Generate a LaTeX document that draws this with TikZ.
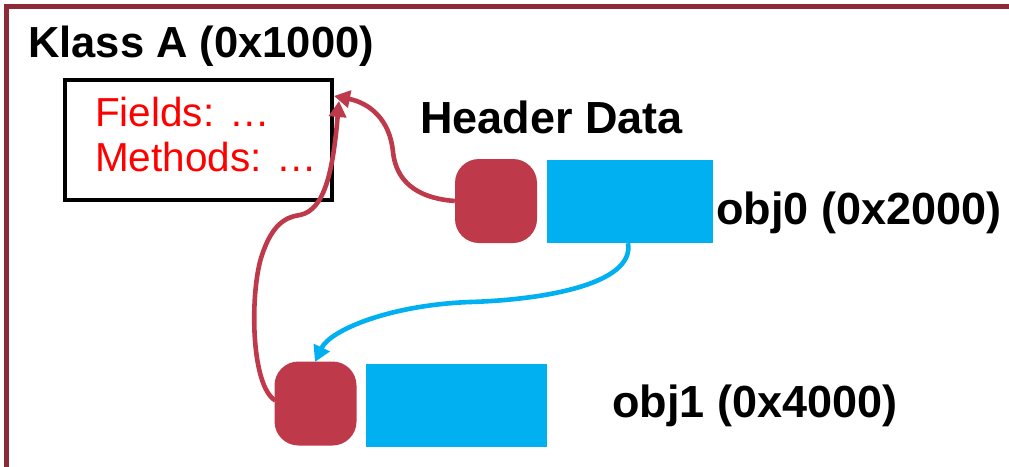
\documentclass[tikz,border=0pt]{standalone}
\usepackage{fontspec}
\setmainfont{Liberation Sans}
\usetikzlibrary{arrows.meta}
\definecolor{frameRed}{RGB}{142,41,56}
\definecolor{hdrRed}{RGB}{190,58,75}
\definecolor{dataBlue}{RGB}{0,176,240}
\definecolor{txtRed}{RGB}{255,0,0}
\tikzset{
  hdr/.style={fill=hdrRed, draw=none, rounded corners=24pt, minimum width=82pt, minimum height=84pt, inner sep=0pt},
  dat/.style={fill=dataBlue, draw=none, minimum height=83pt, inner sep=0pt},
  lbl/.style={font=\fontsize{45pt}{50pt}\selectfont\bfseries, anchor=base west, inner sep=0pt},
  body/.style={font=\fontsize{40.5pt}{45pt}\selectfont, text=txtRed, anchor=base west, inner sep=0pt},
  redlink/.style={draw=hdrRed, line width=4.6pt, -{Triangle[length=16pt,width=17pt]}},
  bluelink/.style={draw=dataBlue, line width=4.6pt, -{Triangle[length=16pt,width=17pt]}},
}
\begin{document}
\begin{tikzpicture}[x=1pt,y=-1pt]
\useasboundingbox (0,0) rectangle (1009,466);
\clip (0,0) rectangle (1009,466);
\fill[white] (0,0) rectangle (1009,466);

% enclosing frame
\draw[frameRed, line width=4.5pt] (6.5,480) -- (6.5,6.5) -- (1020,6.5);

% class
\node[lbl, font=\fontsize{43.5pt}{48pt}\selectfont\bfseries] (title) at (28,57) {Klass A (0x1000)};
\node[draw=black, line width=4.5pt, minimum width=267pt, minimum height=120pt, inner sep=0pt] (klass) at (198.5,140) {};
\node[body] (fields) at (95,126) {Fields: …};
\node[body] (methods) at (95,171) {Methods: …};

% objects
\node[lbl] (hdrlbl) at (420,133) {Header Data};
\node[hdr] (h0) at (496,201) {};
\node[dat, minimum width=166pt] (d0) at (630,201.5) {};
\node[lbl] (o0) at (716,224) {obj0 (0x2000)};

\node[hdr] (h1) at (315.5,403.5) {};
\node[dat, minimum width=181pt] (d1) at (456.5,405) {};
\node[lbl] (o1) at (612,417) {obj1 (0x4000)};

% pointers
\coordinate (tipA) at (334,96);
\coordinate (tipB) at (339,101);
\coordinate (tipC) at (315,362);

\path[redlink] (h0.west) .. controls (415,198) and (396,180) .. (393,152)
  .. controls (390,120) and (370,103) .. (tipA);
\path[redlink] ([xshift=1pt,yshift=3pt]h1.west) .. controls (250,385) and (250,290) .. (262,255)
  .. controls (272,225) and (285,217) .. (300,215)
  .. controls (325,210) and (333,170) .. (tipB);
\path[bluelink] ([xshift=-2pt]d0.south) .. controls (635,285) and (540,300) .. (470,302)
  .. controls (390,305) and (330,330) .. (tipC);
\end{tikzpicture}
\end{document}
